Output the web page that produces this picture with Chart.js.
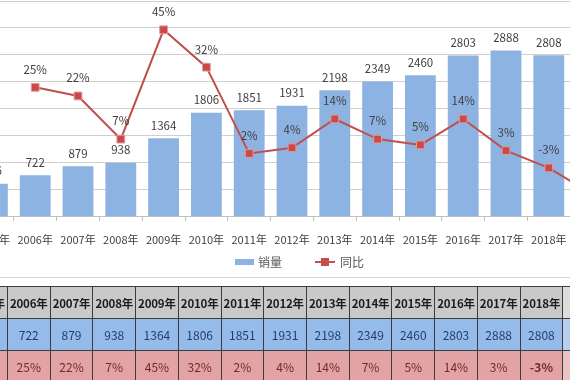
<!DOCTYPE html>
<html>
<head>
<meta charset="utf-8">
<script src="https://cdn.jsdelivr.net/npm/chart.js@4.4.1/dist/chart.umd.min.js"></script>
<style>
    html, body { margin: 0; padding: 0; background: #fff; }
    body { width: 570px; height: 380px; overflow: hidden; position: relative; font-family: "Noto Sans CJK SC", sans-serif; }
    #salesChart { position: absolute; left: -29px; top: 0; }
    #frameLine { position: absolute; left: 0; top: 277px; width: 570px; border-top: 1px solid #d4d4d4; }
    #dataTable { position: absolute; left: -35.8px; top: 286px; width: 642px; border-collapse: collapse; table-layout: fixed; }
    #dataTable td { height: 31px; padding: 0; text-align: center; border: 1px solid #3c3c3c; font-size: 12px; white-space: nowrap; overflow: hidden; }
    #dataTable tr.head td { background: #c9c9c9; color: #1c1c1c; font-weight: bold; font-size: 11.5px; letter-spacing: -0.2px; }
    #dataTable tr.sales td { background: #95bbea; color: #263d68; }
    #dataTable tr.growth td { background: #e3a2a3; color: #6d2b2b; }
    #dataTable tr.head td.tail { background: #dcdcdc; }
    #dataTable tr.sales td.tail { background: #b7d0f0; }
    #dataTable tr.growth td.tail { background: #ecc3c3; }
</style>
</head>
<body>
<canvas id="salesChart" width="642" height="292"></canvas>
<div id="frameLine"></div>
<table id="dataTable"></table>
<script>
const years = ['2005年', '2006年', '2007年', '2008年', '2009年', '2010年', '2011年', '2012年',
    '2013年', '2014年', '2015年', '2016年', '2017年', '2018年', '2019年'];
const sales = [576, 722, 879, 938, 1364, 1806, 1851, 1931, 2198, 2349, 2460, 2803, 2888, 2808, 2470];
const growth = [null, 25, 22, 7, 45, 32, 2, 4, 14, 7, 5, 14, 3, -3, -12];

const FONT = '"Noto Sans CJK SC", sans-serif';
const BAR_COLOR = '#8db3e2';
const LINE_COLOR = '#c0504d';

// table under the chart (2005-2018, last column is cut off in the shot)
const tableCount = 14;
const table = document.getElementById('dataTable');
const rows = [
    ['head', years.slice(0, tableCount)],
    ['sales', sales.slice(0, tableCount).map(v => String(v))],
    ['growth', growth.slice(0, tableCount).map(v => v === null ? '' : v + '%')]
];
rows.forEach(([cls, cells]) => {
    const tr = document.createElement('tr');
    tr.className = cls;
    cells.concat(['']).forEach((text, i) => {
        const td = document.createElement('td');
        td.textContent = text;
        if (i === cells.length) td.className = 'tail';
        if (cls === 'growth' && text.startsWith('-')) td.style.fontWeight = 'bold';
        tr.appendChild(td);
    });
    table.appendChild(tr);
});

const valueLabels = {
    id: 'valueLabels',
    afterDatasetDraw(chart, args) {
        if (args.index !== 0) return;
        const ctx = chart.ctx;
        ctx.save();
        ctx.font = '11.5px ' + FONT;
        ctx.fillStyle = '#404040';
        ctx.textAlign = 'center';
        ctx.textBaseline = 'middle';
        args.meta.data.forEach((bar, i) => {
            ctx.fillText(sales[i], bar.x, bar.y - 13);
        });
        ctx.restore();
    },
    afterDatasetsDraw(chart) {
        const ctx = chart.ctx;
        ctx.save();
        ctx.font = '11.5px ' + FONT;
        ctx.fillStyle = '#404040';
        ctx.textAlign = 'center';
        ctx.textBaseline = 'middle';
        chart.getDatasetMeta(1).data.forEach((pt, i) => {
            if (growth[i] === null) return;
            ctx.fillText(growth[i] + '%', pt.x, pt.y - 18);
        });
        ctx.restore();
    }
};

// excel style legend: swatch for bars, line with square marker for the line
const legendBox = {
    id: 'legendBox',
    afterDraw(chart) {
        const ctx = chart.ctx;
        const ds = chart.data.datasets;
        const y = 262;
        let x = 264;
        ctx.save();
        ctx.font = '12px ' + FONT;
        ctx.textBaseline = 'middle';
        ctx.textAlign = 'left';
        ctx.fillStyle = BAR_COLOR;
        ctx.fillRect(x, y - 3, 19, 6);
        ctx.fillStyle = '#595959';
        ctx.fillText(ds[0].label, x + 23, y);
        x = 344;
        ctx.strokeStyle = LINE_COLOR;
        ctx.lineWidth = 2;
        ctx.beginPath();
        ctx.moveTo(x, y);
        ctx.lineTo(x + 20, y);
        ctx.stroke();
        ctx.fillStyle = LINE_COLOR;
        ctx.fillRect(x + 6, y - 4, 8, 8);
        ctx.fillStyle = '#595959';
        ctx.fillText(ds[1].label, x + 25, y);
        ctx.restore();
    }
};

new Chart(document.getElementById('salesChart'), {
    data: {
        labels: years,
        datasets: [{
            type: 'bar',
            label: '销量',
            data: sales,
            backgroundColor: BAR_COLOR,
            borderWidth: 0,
            barPercentage: 0.72,
            categoryPercentage: 1,
            yAxisID: 'y',
            order: 1
        }, {
            type: 'line',
            label: '同比',
            data: growth,
            borderColor: LINE_COLOR,
            borderWidth: 2,
            pointStyle: 'rect',
            pointRadius: 5.5,
            pointBackgroundColor: '#c94a4a',
            pointBorderColor: '#e39a99',
            pointBorderWidth: 1,
            tension: 0,
            yAxisID: 'y1',
            order: 0
        }]
    },
    options: {
        responsive: false,
        animation: false,
        layout: { autoPadding: false, padding: { top: 1, bottom: 34, left: 0, right: 0 } },
        plugins: {
            legend: { display: false },
            tooltip: { enabled: false }
        },
        scales: {
            x: {
                grid: { offset: true, drawOnChartArea: false, drawTicks: true, tickLength: 4, color: '#bfbfbf' },
                border: { color: '#bfbfbf' },
                ticks: { font: { size: 11, family: FONT }, color: '#404040', padding: 12, maxRotation: 0, autoSkip: false },
                afterFit(scale) {
                    scale.paddingLeft = 0;
                    scale.paddingRight = 0;
                }
            },
            y: {
                min: 0,
                max: 3750,
                ticks: { display: false, stepSize: 500 },
                grid: { color: '#cfcfcf', drawTicks: false },
                border: { display: false }
            },
            y1: {
                display: false,
                position: 'right',
                min: -20,
                max: 55
            }
        }
    },
    plugins: [valueLabels, legendBox]
});
</script>
</body>
</html>
